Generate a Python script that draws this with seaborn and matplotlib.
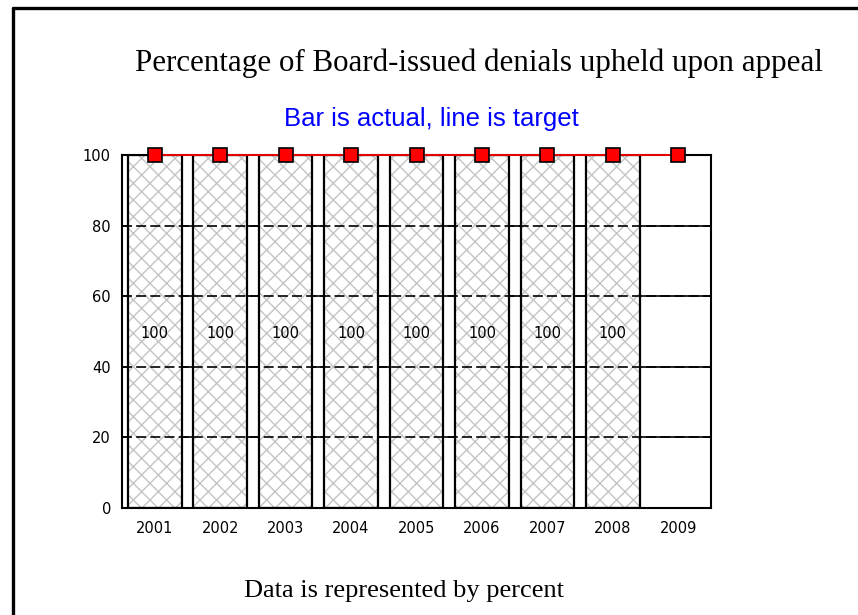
import numpy as np
import pandas as pd
import matplotlib
matplotlib.use("Agg")
import matplotlib.pyplot as plt
import seaborn as sns
from matplotlib.lines import Line2D

years = ["2001", "2002", "2003", "2004", "2005", "2006", "2007", "2008", "2009"]
actual = [100, 100, 100, 100, 100, 100, 100, 100, np.nan]
target = [100, 100, 100, 100, 100, 100, 100, 100, 100]
yticks = [0, 20, 40, 60, 80, 100]

df = pd.DataFrame({"year": years, "actual": actual, "target": target})

sns.set_theme(style="white")
plt.rcParams["font.family"] = ["DejaVu Sans"]

fig = plt.figure(figsize=(8.58, 6.15), dpi=100)
ax = fig.add_axes([122 / 858, 1 - 508 / 615, 589 / 858, 353 / 615])

# solid grid behind the bars
for v in yticks[1:-1]:
    ax.axhline(v, color="black", lw=1.2, zorder=0)

# hatched fill (grey), then the black outline on top
sns.barplot(data=df, x="year", y="actual", order=years, color="white",
            edgecolor="#c4c4c4", hatch="xx", linewidth=0, width=0.82, ax=ax, zorder=1)
sns.barplot(data=df, x="year", y="actual", order=years, fill=False,
            edgecolor="black", linewidth=1.6, width=0.82, ax=ax, zorder=2)

# dashed grid drawn over the bars
for v in yticks[1:-1]:
    ax.axhline(v, color="black", lw=1.2, ls=(0, (6, 2.5)), zorder=3)

# value labels in the middle of each bar
for bar in ax.containers[1]:
    if bar is None or np.isnan(bar.get_height()):
        continue
    ax.text(bar.get_x() + bar.get_width() / 2, bar.get_height() / 2 - 0.6,
            "%d" % bar.get_height(), ha="center", va="center",
            fontsize=10.5, color="black", zorder=6)

sns.lineplot(data=df, x="year", y="target", color="red", lw=1.3, marker="s",
             markersize=10, markerfacecolor="red", markeredgecolor="black",
             markeredgewidth=1.2, ax=ax, zorder=5, clip_on=False)

ax.set_xlim(-0.5, 8.5)
ax.set_ylim(0, 100)
ax.set_yticks(yticks)
ax.set_xlabel("")
ax.set_ylabel("")
ax.tick_params(axis="both", length=0, labelsize=10.5, colors="black")
ax.tick_params(axis="y", pad=8)
ax.tick_params(axis="x", pad=9.5)
for s in ax.spines.values():
    s.set_color("black")
    s.set_linewidth(1.5)
    s.set_zorder(4)

fig.text(479 / 858, 1 - 63 / 615, "Percentage of Board-issued denials upheld upon appeal",
         ha="center", va="center", fontsize=22.3, family="Liberation Serif", color="black")
fig.text(431 / 858, 1 - 119 / 615, "Bar is actual, line is target",
         ha="center", va="center", fontsize=18.5, family="Liberation Sans", color="#0000ff")
fig.text(404 / 858, 1 - 591 / 615, "Data is represented by percent",
         ha="center", va="center", fontsize=19, family="Liberation Serif", color="black")

# frame on the top and left edges
fig.add_artist(Line2D([12.5 / 858, 1], [1 - 7.5 / 615, 1 - 7.5 / 615],
                      transform=fig.transFigure, color="black", lw=2.4))
fig.add_artist(Line2D([12.5 / 858, 12.5 / 858], [0, 1 - 7.5 / 615],
                      transform=fig.transFigure, color="black", lw=2.4))

fig.savefig("out.png", dpi=100)
